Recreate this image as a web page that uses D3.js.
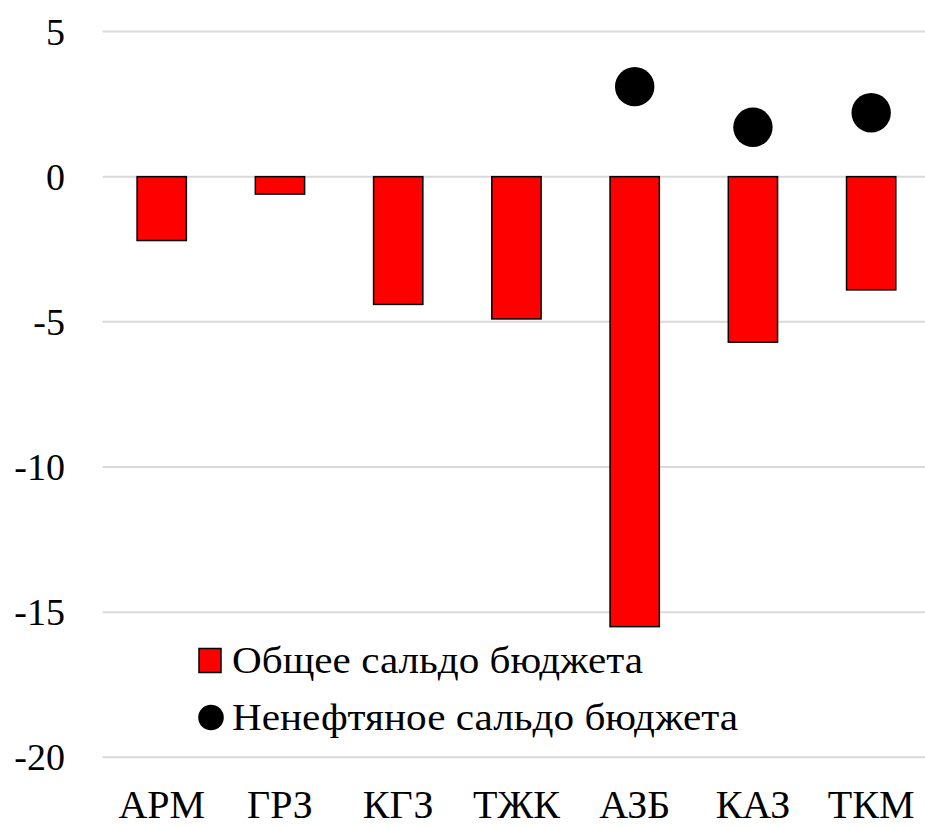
<!DOCTYPE html>
<html><head><meta charset="utf-8">
<script src="https://cdn.jsdelivr.net/npm/d3@7"></script>
<style>body{margin:0;background:#fff}svg{display:block;font-family:"Liberation Serif"}</style>
</head><body>
<svg id="c" width="925" height="826"></svg>
<script>
const categories = ["АРМ","ГРЗ","КГЗ","ТЖК","АЗБ","КАЗ","ТКМ"];
const overallBalance = [-2.2,-0.6,-4.4,-4.9,-15.5,-5.7,-3.9];
const nonOilBalance = [null,null,null,null,3.1,1.7,2.2];
const yTicks = [5,0,-5,-10,-15,-20];
const seriesNames = ["Общее сальдо бюджета","Ненефтяное сальдо бюджета"];

const FONT = '"Liberation Serif"';
const svg = d3.select("#c");
const x = d3.scaleBand().domain(categories).range([102.6,930.3]).padding(0);
const y = d3.scaleLinear().domain([-20,5]).range([757.3,31.5]);
const barW = x.bandwidth()/2.4;

svg.append("g").selectAll("line").data(yTicks).join("line")
  .attr("x1",102.6).attr("x2",925).attr("y1",d=>y(d)).attr("y2",d=>y(d))
  .attr("stroke","#d9d9d9").attr("stroke-width",2);

const yAxis = svg.append("g").attr("transform","translate(65,0)")
  .call(d3.axisLeft(y).tickValues(yTicks).tickSize(0).tickPadding(0).tickFormat(d=>d<0?"-"+Math.abs(d):d));
yAxis.select(".domain").remove();
yAxis.attr("font-family",FONT).attr("font-size",38);
yAxis.selectAll("text").style("font-family",FONT).style("font-size","38px").attr("dy","0.33em").attr("fill","#000");

const xAxis = svg.append("g").attr("transform","translate(0,818)")
  .call(d3.axisBottom(x).tickSize(0).tickPadding(0));
xAxis.select(".domain").remove();
xAxis.attr("font-family",FONT).attr("font-size",40);
xAxis.selectAll("text").style("font-family",FONT).style("font-size","40px").attr("dy","0").attr("y",0).attr("fill","#000");

svg.append("g").selectAll("rect").data(categories).join("rect")
  .attr("x",d=>x(d)+x.bandwidth()/2-barW/2).attr("width",barW)
  .attr("y",(d,i)=>y(Math.max(0,overallBalance[i])))
  .attr("height",(d,i)=>Math.abs(y(overallBalance[i])-y(0)))
  .attr("fill","#ff0000").attr("stroke","#000").attr("stroke-width",1.5);

svg.append("g").selectAll("circle").data(categories.filter((d,i)=>nonOilBalance[i]!=null)).join("circle")
  .attr("cx",d=>x(d)+x.bandwidth()/2)
  .attr("cy",d=>y(nonOilBalance[categories.indexOf(d)]))
  .attr("r",19.7).attr("fill","#000");

const lg = svg.append("g").attr("font-family",FONT);
lg.append("rect").attr("x",199).attr("y",648.5).attr("width",22).attr("height",24)
  .attr("fill","#ff0000").attr("stroke","#000").attr("stroke-width",1.5);
lg.append("circle").attr("cx",211).attr("cy",717.5).attr("r",12.8).attr("fill","#000");
lg.selectAll("text").data(seriesNames).join("text")
  .attr("x",232).attr("y",(d,i)=>i===0?673:730)
  .attr("textLength",(d,i)=>i===0?411:506).attr("lengthAdjust","spacingAndGlyphs")
  .style("font-family",FONT).style("font-size","37px").attr("fill","#000").text(d=>d);
</script>
</body></html>
